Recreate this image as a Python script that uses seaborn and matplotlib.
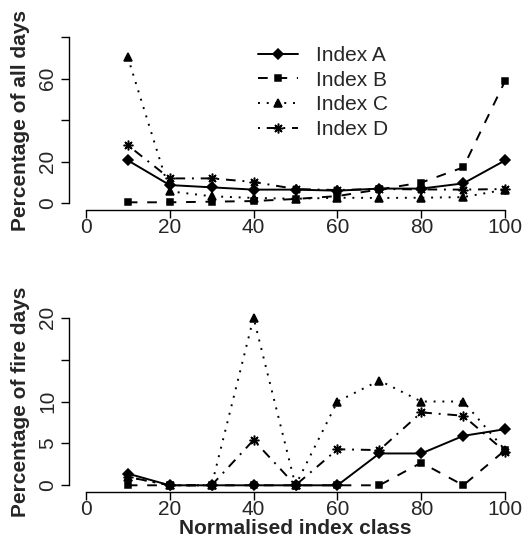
import numpy as np
import pandas as pd
import matplotlib
matplotlib.use("Agg")
import matplotlib.pyplot as plt
import seaborn as sns

# ------------------------------------------------------------
# Données
# ------------------------------------------------------------
classes = [10, 20, 30, 40, 50, 60, 70, 80, 90, 100]
index_names = ["Index A", "Index B", "Index C", "Index D"]

# pourcentage de tous les jours
all_a = [20.7, 8.8, 7.7, 6.6, 6.6, 6.1, 7.1, 7.1, 9.6, 20.7]
all_b = [0.5, 0.5, 0.8, 1.1, 2.1, 3.5, 6.7, 10.0, 17.3, 59.0]
all_c = [70.4, 5.8, 3.4, 2.6, 2.2, 2.7, 2.6, 2.7, 3.0, 6.6]
all_d = [28.0, 12.0, 12.0, 10.3, 6.9, 6.4, 6.9, 6.7, 6.6, 6.9]

# pourcentage des jours de feu
fire_a = [1.4, 0, 0, 0, 0, 0, 3.8, 3.8, 5.9, 6.7]
fire_b = [0, 0, 0, 0, 0, 0, 0, 2.7, 0, 4.2]
fire_c = [1.0, 0, 0, 20.0, 0, 10.0, 12.5, 10.0, 10.0, 4.2]
fire_d = [1.0, 0, 0, 5.4, 0, 4.3, 4.2, 8.7, 8.3, 4.0]

# ------------------------------------------------------------
# Style
# ------------------------------------------------------------
sns.set_style("ticks")
plt.rcParams["font.family"] = ["Liberation Sans", "DejaVu Sans"]
plt.rcParams["font.size"] = 15

styles = {
    "Index A": dict(marker="D", ls="-", ms=5),
    "Index B": dict(marker="s", ls=(0, (5, 5)), ms=4.5),
    "Index C": dict(marker="^", ls=(0, (1, 3.5)), ms=6),
    "Index D": dict(marker=(8, 2, 0), ls=(0, (1, 3.5, 5, 3.5)), ms=7),
}

fig = plt.figure(figsize=(5.32, 5.5), dpi=100)
W, H = 532, 550
ax1 = fig.add_axes([69 / W, 1 - 210 / H, 453 / W, 179.6 / H])
ax2 = fig.add_axes([69 / W, 1 - 492 / H, 453 / W, 181 / H])


def draw(ax, series):
    for name, vals in zip(index_names, series):
        st = styles[name]
        sns.lineplot(x=classes, y=vals, ax=ax, color="black", linewidth=1.4,
                     marker=st["marker"], linestyle=st["ls"], markersize=st["ms"],
                     markeredgecolor="black", markeredgewidth=1.1,
                     label=name)


draw(ax1, [all_a, all_b, all_c, all_d])
draw(ax2, [fire_a, fire_b, fire_c, fire_d])
ax2.get_legend().remove()

for ax in (ax1, ax2):
    ax.set_xlim(-4, 104)
    ax.set_xticks([0, 20, 40, 60, 80, 100])
    ax.spines["top"].set_visible(False)
    ax.spines["right"].set_visible(False)
    ax.spines["bottom"].set_bounds(0, 100)
    ax.tick_params(axis="both", length=5.5, width=1, labelsize=15, color="black")
    ax.tick_params(axis="x", pad=0.5)
    ax.tick_params(axis="y", pad=3)
    for sp in ("left", "bottom"):
        ax.spines[sp].set_color("black")
        ax.spines[sp].set_linewidth(1)
    ax.set_xlabel("")

ax1.set_ylim(-3.2, 83.2)
ax1.spines["left"].set_bounds(0, 80)
ax1.set_yticks([0, 20, 40, 60, 80])
ax1.set_yticklabels(["0", "20", "", "60", ""], rotation=90, va="center")
ax1.set_ylabel("Percentage of all days", fontweight="bold", fontsize=15, va="center")
ax1.yaxis.set_label_coords(-0.107, 0.5)

ax2.set_ylim(-0.8, 20.8)
ax2.spines["left"].set_bounds(0, 20)
ax2.set_yticks([0, 5, 10, 15, 20])
ax2.set_yticklabels(["0", "5", "10", "", "20"], rotation=90, va="center")
ax2.set_ylabel("Percentage of fire days", fontweight="bold", fontsize=15, va="center")
ax2.yaxis.set_label_coords(-0.107, 0.5)
ax2.set_xlabel("Normalised index class", fontweight="bold", fontsize=15, va="center")
ax2.xaxis.set_label_coords(0.5, -0.2)

handles, labels = ax1.get_legend_handles_labels()
ax1.legend(handles, labels, frameon=False, loc="upper left",
           bbox_to_anchor=(258 / W, 1 - 46 / H), bbox_transform=fig.transFigure,
           borderaxespad=0, borderpad=0, handlelength=1.9, handletextpad=0.9,
           labelspacing=0.27, fontsize=15)

fig.savefig("out.png", dpi=100)
